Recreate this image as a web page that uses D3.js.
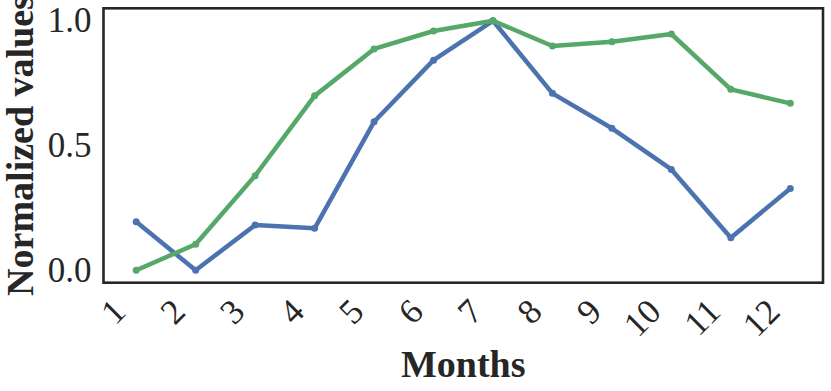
<!DOCTYPE html>
<html>
<head>
<meta charset="utf-8">
<script src="https://cdn.jsdelivr.net/npm/d3@7"></script>
<style>
  body { margin: 0; background: #fff; }
  svg text { font-family: "Liberation Serif", "DejaVu Serif", serif; fill: #262626; }
</style>
</head>
<body>
<svg id="chart" width="831" height="391"></svg>
<script>
// data
var months = [1, 2, 3, 4, 5, 6, 7, 8, 9, 10, 11, 12]
var blueValues = [0.194, 0.0, 0.181, 0.168, 0.595, 0.842, 1.0, 0.709, 0.569, 0.404, 0.130, 0.328]
var greenValues = [0.0, 0.104, 0.379, 0.699, 0.887, 0.959, 1.0, 0.899, 0.916, 0.947, 0.725, 0.669]
var yTicks = [0.0, 0.5, 1.0]

const margin = {left: 103.5, right: 8, top: 8.3, bottom: 108.3}
const width = 831, height = 391

const svg = d3.select("#chart")

// matplotlib style 5% margins
const x = d3.scaleLinear()
    .domain([0.45, 12.55])
    .range([margin.left, width - margin.right])
const y = d3.scaleLinear()
    .domain([-0.05, 1.05])
    .range([height - margin.bottom, margin.top])

const series = [
    {values: blueValues, color: "#4c72b0"},
    {values: greenValues, color: "#55a868"}
]

const line = d3.line()
    .x((d, i) => x(months[i]))
    .y(d => y(d))

series.forEach(s => {
    svg.append("path")
        .datum(s.values)
        .attr("fill", "none")
        .attr("stroke", s.color)
        .attr("stroke-width", 4.5)
        .attr("stroke-linejoin", "round")
        .attr("stroke-linecap", "round")
        .attr("d", line)
    svg.append("g")
        .selectAll("circle")
        .data(s.values)
        .enter()
        .append("circle")
        .attr("cx", (d, i) => x(months[i]))
        .attr("cy", d => y(d))
        .attr("r", 3.5)
        .attr("fill", s.color)
})

// frame
svg.append("rect")
    .attr("x", margin.left)
    .attr("y", margin.top)
    .attr("width", width - margin.right - margin.left)
    .attr("height", height - margin.bottom - margin.top)
    .attr("fill", "none")
    .attr("stroke", "#262626")
    .attr("stroke-width", 2.6)

// y ticks
const yAxis = d3.axisLeft(y).tickValues(yTicks).tickFormat(d3.format(".1f")).tickSize(0).tickPadding(12)
const gy = svg.append("g")
    .attr("transform", `translate(${margin.left},0)`)
    .call(yAxis)
gy.select(".domain").remove()
gy.selectAll("text")
    .attr("font-size", "35px")
    .attr("font-family", "Liberation Serif")
    .attr("fill", "#262626")

// x ticks, rotated
const xAxis = d3.axisBottom(x).tickValues(months).tickFormat(d3.format("d")).tickSize(0)
const gx = svg.append("g")
    .attr("transform", `translate(0,${height - margin.bottom})`)
    .call(xAxis)
gx.select(".domain").remove()
gx.selectAll("text")
    .attr("font-size", "35px")
    .attr("font-family", "Liberation Serif")
    .attr("fill", "#262626")
    .attr("dy", null)
    .attr("y", null)
    .attr("text-anchor", "end")
    .attr("transform", "translate(-9,31) rotate(-45)")

// axis labels
svg.append("text")
    .attr("x", (margin.left + width - margin.right) / 2)
    .attr("y", 376.5)
    .attr("text-anchor", "middle")
    .attr("font-size", "38px")
    .attr("font-weight", "bold")
    .text("Months")

svg.append("text")
    .attr("transform", `translate(33,${(margin.top + height - margin.bottom) / 2}) rotate(-90)`)
    .attr("text-anchor", "middle")
    .attr("font-size", "38px")
    .attr("font-weight", "bold")
    .text("Normalized values")
</script>
</body>
</html>
